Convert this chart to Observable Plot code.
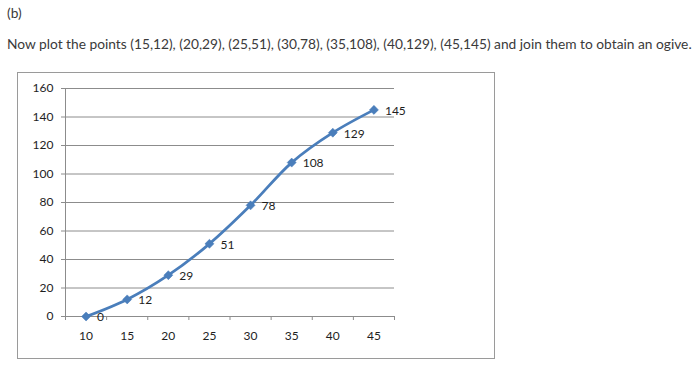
<!DOCTYPE html>
<html>
<head>
<meta charset="utf-8">
<script src="https://cdn.jsdelivr.net/npm/d3@7"></script>
<script src="https://cdn.jsdelivr.net/npm/@observablehq/plot@0.6"></script>
<style>
  html, body { margin: 0; padding: 0; background: #fff; }
  body { width: 698px; height: 369px; position: relative; overflow: hidden; font-family: Lato, sans-serif; color: #3a3a3a; }
  #lbl { position: absolute; left: 7px; top: 4px; font-size: 13.75px; }
  #txt { position: absolute; left: 7px; top: 35px; font-size: 13.75px; white-space: nowrap; }
  #box { position: absolute; left: 17px; top: 72px; width: 476px; height: 285px; border: 1px solid #9a9a9a; }
  #box svg { position: absolute; left: 0; top: 0; }
</style>
</head>
<body>
<div id="lbl">(b)</div>
<div id="txt">Now plot the points (15,12), (20,29), (25,51), (30,78), (35,108), (40,129), (45,145) and join them to obtain an ogive.</div>
<div id="box"></div>
<script>
const categories = [10, 15, 20, 25, 30, 35, 40, 45];
const cumulative = [0, 12, 29, 51, 78, 108, 129, 145];
const yTicks = [0, 20, 40, 60, 80, 100, 120, 140, 160];

const data = categories.map((c, i) => ({x: c, y: cumulative[i]}));
const half = 2.5;
const bounds = [categories[0] - half, ...categories.map(c => c + half)];
const blue = "#4a7ebb";
const grid = "#8c8c8c";
const ink = "#1e1e1e";

const chart = Plot.plot({
  width: 476,
  height: 285,
  marginLeft: 47,
  marginRight: 100,
  marginTop: 15,
  marginBottom: 42,
  style: {fontFamily: "Lato, 'Open Sans', sans-serif", fontSize: "12px", color: ink, background: "transparent"},
  x: {type: "linear", domain: [bounds[0], bounds[bounds.length - 1]], axis: null, label: null},
  y: {domain: [0, 160], axis: null, label: null},
  marks: [
    Plot.ruleY(yTicks, {stroke: grid, strokeWidth: 1}),
    Plot.ruleX([bounds[0]], {stroke: grid, strokeWidth: 1}),
    Plot.axisY({ticks: yTicks, tickSize: 4, tickPadding: 8, stroke: grid, fill: ink, fontSize: 12, label: null}),
    Plot.axisX({ticks: bounds, tickSize: 4, tickFormat: () => "", stroke: grid, label: null}),
    Plot.axisX({ticks: categories, tickSize: 0, tickPadding: 15, fill: ink, fontSize: 12, label: null}),
    Plot.line(data, {x: "x", y: "y", stroke: blue, strokeWidth: 2.75, curve: "catmull-rom"}),
    Plot.dot(data, {x: "x", y: "y", symbol: "square", rotate: 45, r: 3.6, fill: blue, stroke: blue, strokeWidth: 0.5}),
    Plot.text(data, {x: "x", y: "y", text: d => String(d.y), textAnchor: "start", dx: 11, dy: 1, fill: ink, fontSize: 12})
  ]
});
document.getElementById("box").appendChild(chart);
</script>
</body>
</html>
